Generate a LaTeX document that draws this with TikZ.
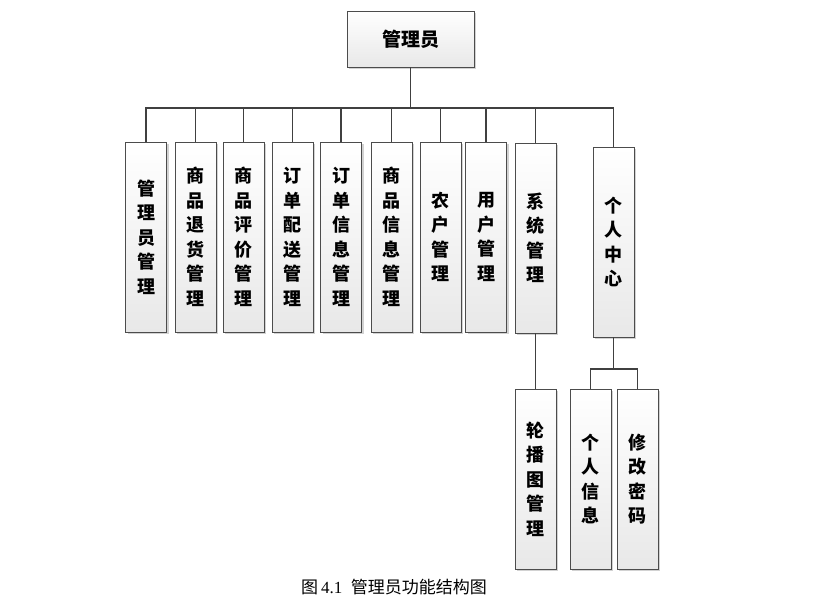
\documentclass[tikz,border=0pt]{standalone}
\usepackage{fontspec}
\setmainfont{Liberation Serif}
\newfontfamily\cjk{Noto Sans CJK SC}
\usepackage{tikz}
\usetikzlibrary{positioning, shadows}
\tikzset{
x=1pt, y=-1pt, % one unit is one pixel of the page, y runs down
line/.style={draw=black!75, line width=1.3pt}, % the connectors
every box/.style={draw=black!70, line width=0.9pt, top color=white, bottom color=black!9,
  inner sep=0pt, align=center,
  drop shadow={shadow xshift=2pt, shadow yshift=-2pt, fill=black!35, opacity=0.5}}, % common look of the boxes
func/.style={every box, minimum width=41pt, minimum height=190pt,
  font=\cjk\bfseries\fontsize{18}{24.5}\selectfont}, % a tall function box
root/.style={every box, minimum width=127pt, minimum height=56pt,
  font=\cjk\bfseries\fontsize{19}{22}\selectfont}, % the top box
}
\begin{document}
\begin{tikzpicture}
\useasboundingbox (0,0) rectangle (815,605);
\node[root] (admin) at (410.5,39) {管理员};

\node[func] (yg) at (146,237) {管\\理\\员\\管\\理};
\node[func] (th) at (195.5,237) {商\\品\\退\\货\\管\\理};
\node[func] (pj) at (243.5,237) {商\\品\\评\\价\\管\\理};
\node[func] (ps) at (292.5,237) {订\\单\\配\\送\\管\\理};
\node[func] (dd) at (341,237) {订\\单\\信\\息\\管\\理};
\node[func] (sp) at (391.5,237) {商\\品\\信\\息\\管\\理};
\node[func] (nh) at (440.5,237) {农\\户\\管\\理};
\node[func] (yh) at (486,237) {用\\户\\管\\理};
\node[func] (xt) at (535.5,238) {系\\统\\管\\理};
\node[func] (gr) at (613.5,242) {个\\人\\中\\心};

\node[func, minimum height=180pt] (lb) at (535.5,479) {轮\\播\\图\\管\\理};
\node[func, minimum height=180pt] (xx) at (590.5,479) {个\\人\\信\\息};
\node[func, minimum height=180pt] (mm) at (637.5,479) {修\\改\\密\\码};

\coordinate (bus) at (0,108);
\coordinate (sub) at (0,369);

\draw[line] (admin.south) -- (admin.south |- bus);
\draw[line] (yg.north) -- (yg.north |- bus) -| (gr.north);
\draw[line] (th.north) -- (th.north |- bus);
\draw[line] (pj.north) -- (pj.north |- bus);
\draw[line] (ps.north) -- (ps.north |- bus);
\draw[line] (dd.north) -- (dd.north |- bus);
\draw[line] (sp.north) -- (sp.north |- bus);
\draw[line] (nh.north) -- (nh.north |- bus);
\draw[line] (yh.north) -- (yh.north |- bus);
\draw[line] (xt.north) -- (xt.north |- bus);

\draw[line] (xt.south) -- (lb.north);
\draw[line] (gr.south) -- (gr.south |- sub);
\draw[line] (xx.north) |- (gr.south |- sub) -| (mm.north);

\node[font=\fontsize{17}{19}\selectfont] (cap) at (394,587) {{\cjk 图}\,4.1\ \ {\cjk 管理员功能结构图}};
\end{tikzpicture}
\end{document}
